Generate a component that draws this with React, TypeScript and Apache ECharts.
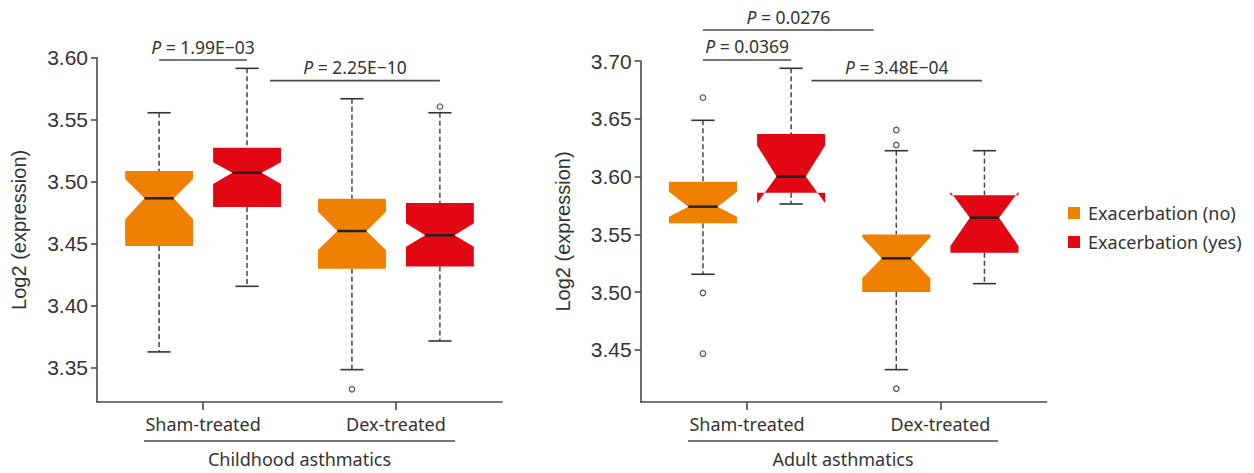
import React, { useEffect, useRef } from "react";
import * as echarts from "echarts";

const groups = ["Sham-treated", "Dex-treated"];
const panelTitles = ["Childhood asthmatics", "Adult asthmatics"];
const seriesNames = ["Exacerbation (no)", "Exacerbation (yes)"];
const seriesColors = ["#F08000", "#E30613"];

// [whisker low, Q1, median, Q3, whisker high] per group
const childNoStats = [
  [3.3627, 3.4481, 3.4866, 3.5086, 3.5556],
  [3.3484, 3.4298, 3.4602, 3.4863, 3.5669],
];
const childNoNotch = [
  [3.4697, 3.5022],
  [3.4449, 3.4758],
];
const childNoOutliers = [[], [3.3326]];

const childYesStats = [
  [3.4156, 3.4796, 3.5073, 3.5274, 3.5914],
  [3.3715, 3.4315, 3.4568, 3.4828, 3.5556],
];
const childYesNotch = [
  [3.4981, 3.5156],
  [3.4476, 3.4664],
];
const childYesOutliers = [[], [3.5605]];

const adultNoStats = [
  [3.5155, 3.5596, 3.574, 3.5956, 3.6487],
  [3.433, 3.5002, 3.5293, 3.55, 3.6224],
];
const adultNoNotch = [
  [3.5653, 3.5869],
  [3.512, 3.5475],
];
const adultNoOutliers = [
  [3.6683, 3.4993, 3.4468],
  [3.6403, 3.6273, 3.4165],
];

const adultYesStats = [
  [3.5763, 3.5861, 3.6, 3.6369, 3.6937],
  [3.5074, 3.5342, 3.5645, 3.5838, 3.6224],
];
const adultYesNotch = [
  [3.5769, 3.627],
  [3.5399, 3.5869],
];
const adultYesOutliers = [[], []];

const childTicks = [3.35, 3.4, 3.45, 3.5, 3.55, 3.6];
const adultTicks = [3.45, 3.5, 3.55, 3.6, 3.65, 3.7];
const childRange = [3.3223, 3.6];
const adultRange = [3.405, 3.7];

// p-value brackets: [from x, to x, y]
const childBrackets = [
  [0.772, 1.228, 3.5981],
  [1.347, 2.228, 3.5815],
];
const childPLabels = ["1.99E−03", "2.25E−10"];
const adultBrackets = [
  [0.772, 1.655, 3.7268],
  [0.772, 1.228, 3.7009],
  [1.333, 2.215, 3.683],
];
const adultPLabels = ["0.0276", "0.0369", "3.48E−04"];

const SUB_OFFSET = [-0.228, 0.228];
const BOX_HALF = 0.176;
const MEDIAN_FRAC = 0.43;
const CAP_HALF = 0.06;

const SANS = "'Liberation Sans', Arial, sans-serif";
const NOTO = "'Noto Sans', sans-serif";
const TEXT = "#333";
const AXIS = "#4a4a4a";

function renderBox(params: any, api: any) {
  const x = api.value(0);
  const wlo = api.value(1);
  const q1 = api.value(2);
  const med = api.value(3);
  const q3 = api.value(4);
  const whi = api.value(5);
  const nlo = api.value(6);
  const nhi = api.value(7);
  const c = (xx: number, yy: number) => api.coord([xx, yy]);
  const x0 = x - BOX_HALF;
  const x1 = x + BOX_HALF;
  const xm0 = x - BOX_HALF * MEDIAN_FRAC;
  const xm1 = x + BOX_HALF * MEDIAN_FRAC;
  const color = api.visual("color");
  const wStyle = { stroke: "#444", lineWidth: 1.5, lineDash: [5, 3] };
  const capStyle = { stroke: "#333", lineWidth: 1.6 };
  const pTop = c(x, whi);
  const pQ3 = c(x, q3);
  const pQ1 = c(x, q1);
  const pBot = c(x, wlo);
  const capT0 = c(x - CAP_HALF, whi);
  const capT1 = c(x + CAP_HALF, whi);
  const capB0 = c(x - CAP_HALF, wlo);
  const capB1 = c(x + CAP_HALF, wlo);
  const pts = [
    c(x0, q1),
    c(x0, nlo),
    c(xm0, med),
    c(x0, nhi),
    c(x0, q3),
    c(x1, q3),
    c(x1, nhi),
    c(xm1, med),
    c(x1, nlo),
    c(x1, q1),
  ];
  const m0 = c(xm0, med);
  const m1 = c(xm1, med);
  return {
    type: "group",
    children: [
      { type: "line", shape: { x1: pTop[0], y1: pTop[1], x2: pQ3[0], y2: pQ3[1] }, style: wStyle },
      { type: "line", shape: { x1: pQ1[0], y1: pQ1[1], x2: pBot[0], y2: pBot[1] }, style: wStyle },
      { type: "line", shape: { x1: capT0[0], y1: capT0[1], x2: capT1[0], y2: capT1[1] }, style: capStyle },
      { type: "line", shape: { x1: capB0[0], y1: capB0[1], x2: capB1[0], y2: capB1[1] }, style: capStyle },
      { type: "polygon", shape: { points: pts }, style: { fill: color, stroke: null } },
      { type: "line", shape: { x1: m0[0], y1: m0[1], x2: m1[0], y2: m1[1] }, style: { stroke: "#222", lineWidth: 2.5 } },
    ],
  };
}

function makeBracketRenderer(labels: string[]) {
  return (params: any, api: any) => {
    const a = api.coord([api.value(0), api.value(2)]);
    const b = api.coord([api.value(1), api.value(2)]);
    return {
      type: "group",
      children: [
        { type: "line", shape: { x1: a[0], y1: a[1], x2: b[0], y2: b[1] }, style: { stroke: AXIS, lineWidth: 1.6 } },
        {
          type: "text",
          x: (a[0] + b[0]) / 2,
          y: a[1] - 13.5,
          style: {
            text: "{i|P} = " + labels[params.dataIndex],
            align: "center",
            verticalAlign: "middle",
            fontFamily: NOTO,
            fontSize: 17.5,
            fill: TEXT,
            rich: { i: { fontStyle: "italic", fontFamily: NOTO, fontSize: 17.5, fill: TEXT } },
          },
        },
      ],
    };
  };
}

const panels = [
  {
    stats: [childNoStats, childYesStats],
    notch: [childNoNotch, childYesNotch],
    outliers: [childNoOutliers, childYesOutliers],
    ticks: childTicks,
    range: childRange,
    brackets: childBrackets,
    pLabels: childPLabels,
  },
  {
    stats: [adultNoStats, adultYesStats],
    notch: [adultNoNotch, adultYesNotch],
    outliers: [adultNoOutliers, adultYesOutliers],
    ticks: adultTicks,
    range: adultRange,
    brackets: adultBrackets,
    pLabels: adultPLabels,
  },
];

export default function App() {
  const ref = useRef<HTMLDivElement>(null);
  useEffect(() => {
    if (!ref.current) return;
    const chart = echarts.init(ref.current, undefined, { renderer: "svg" });
    const series: any[] = [];
    panels.forEach((p, pi) => {
      [0, 1].forEach((s) => {
        series.push({
          type: "custom",
          name: seriesNames[s],
          xAxisIndex: pi,
          yAxisIndex: pi,
          itemStyle: { color: seriesColors[s] },
          renderItem: renderBox,
          encode: { x: 0, y: [1, 2, 3, 4, 5] },
          data: groups.map((g, gi) => [gi + 1 + SUB_OFFSET[s], ...p.stats[s][gi], ...p.notch[s][gi]]),
          clip: false,
        });
        const outs: number[][] = [];
        groups.forEach((g, gi) => {
          p.outliers[s][gi].forEach((v) => outs.push([gi + 1 + SUB_OFFSET[s], v]));
        });
        series.push({
          type: "scatter",
          xAxisIndex: pi,
          yAxisIndex: pi,
          symbol: "circle",
          symbolSize: 5.5,
          itemStyle: { color: "#fff", borderColor: "#333", borderWidth: 1.3 },
          data: outs,
          z: 5,
        });
      });
      series.push({
        type: "custom",
        xAxisIndex: pi,
        yAxisIndex: pi,
        renderItem: makeBracketRenderer(p.pLabels),
        encode: { x: [0, 1], y: 2 },
        data: p.brackets,
        clip: false,
        z: 6,
      });
    });

    const xAxis = panels.map((p, pi) => ({
      type: "value",
      gridIndex: pi,
      min: 0.45,
      max: 2.55,
      splitLine: { show: false },
      axisLine: { show: true, lineStyle: { color: AXIS, width: 1.6 } },
      axisTick: { show: true, length: 8, customValues: [1, 2], lineStyle: { color: AXIS, width: 1.6 } },
      axisLabel: {
        customValues: [1, 2],
        formatter: (v: number) => groups[Math.round(v) - 1] ?? "",
        fontFamily: NOTO,
        fontSize: 18,
        color: TEXT,
        margin: 13,
      },
    }));
    const yAxis = panels.map((p, pi) => ({
      type: "value",
      gridIndex: pi,
      min: p.range[0],
      max: p.range[1],
      name: "Log2 (expression)",
      nameLocation: "middle",
      nameRotate: 90,
      nameGap: 68,
      nameTextStyle: { fontFamily: SANS, fontSize: 20, color: TEXT },
      splitLine: { show: false },
      axisLine: { show: true, lineStyle: { color: AXIS, width: 1.6 } },
      axisTick: { show: true, length: 6, customValues: p.ticks, lineStyle: { color: AXIS, width: 1.6 } },
      axisLabel: {
        customValues: p.ticks,
        formatter: (v: number) => v.toFixed(2),
        fontFamily: SANS,
        fontSize: 21,
        color: TEXT,
        margin: 9,
      },
    }));

    const graphic: any[] = [
      { type: "line", shape: { x1: 144, y1: 441, x2: 455, y2: 441 }, style: { stroke: AXIS, lineWidth: 1.4 } },
      { type: "line", shape: { x1: 688, y1: 441, x2: 998, y2: 441 }, style: { stroke: AXIS, lineWidth: 1.4 } },
      {
        type: "text",
        x: 299.5,
        y: 459,
        style: { text: panelTitles[0], align: "center", verticalAlign: "middle", fontFamily: NOTO, fontSize: 18, fill: TEXT },
      },
      {
        type: "text",
        x: 843,
        y: 459,
        style: { text: panelTitles[1], align: "center", verticalAlign: "middle", fontFamily: NOTO, fontSize: 18, fill: TEXT },
      },
    ];

    chart.setOption({
      animation: false,
      backgroundColor: "#fff",
      grid: [
        { left: 97, top: 57.7, width: 405, height: 344.3 },
        { left: 640.7, top: 61, width: 406, height: 341 },
      ],
      xAxis,
      yAxis,
      legend: {
        data: seriesNames.map((n) => ({ name: n, icon: "rect" })),
        orient: "vertical",
        left: 1068,
        top: 204,
        padding: 0,
        itemWidth: 12,
        itemHeight: 12,
        itemGap: 11,
        selectedMode: false,
        textStyle: { fontFamily: NOTO, fontSize: 18, color: TEXT, padding: [0, 0, 0, 3], lineHeight: 18 },
      },
      graphic,
      series,
    });
    return () => chart.dispose();
  }, []);
  return <div ref={ref} style={{ position: "absolute", left: 0, top: 0, width: 1254, height: 473 }} />;
}
